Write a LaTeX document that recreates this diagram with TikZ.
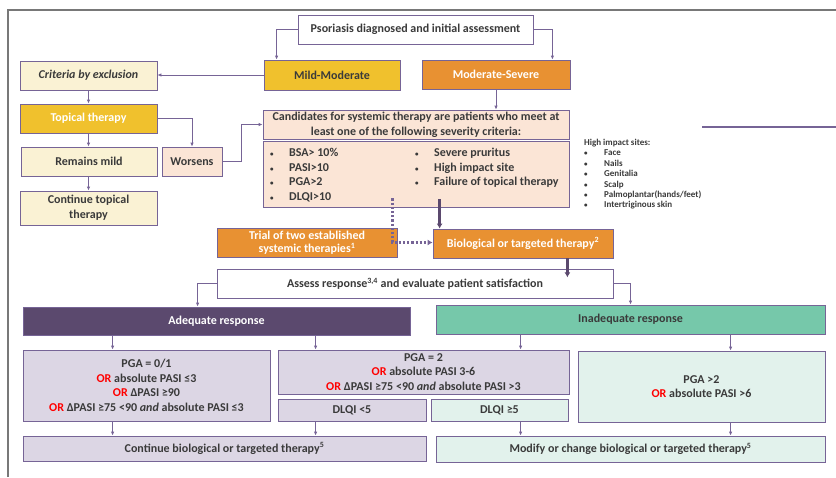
\documentclass[tikz,border=0pt]{standalone}
\usepackage{fontspec}
\setmainfont{Carlito}
\usepackage{xcolor}
\usepackage{tikz}
\usetikzlibrary{calc,arrows.meta}
\definecolor{boxline}{RGB}{118,100,150}
\definecolor{gold}{RGB}{240,193,45}
\definecolor{orng}{RGB}{232,145,50}
\definecolor{cream}{RGB}{250,242,212}
\definecolor{peach}{RGB}{251,229,214}
\definecolor{dpurple}{RGB}{91,73,110}
\definecolor{teal}{RGB}{118,200,170}
\definecolor{lav}{RGB}{220,214,228}
\definecolor{lteal}{RGB}{226,242,236}
\definecolor{dtext}{RGB}{58,58,58}
\definecolor{frame}{RGB}{120,120,120}
\newcommand{\OR}{\textcolor{red}{OR}}
\newcommand{\bul}[1]{\makebox[#1][l]{\fontsize{7}{7}\selectfont•}}
\tikzstyle{centered} = [align=center, text centered, font=\fontsize{12}{14.6}\selectfont\bfseries]
\tikzset{
  % node styles
  box/.style={centered, draw=boxline, line width=0.8pt, text=dtext, inner sep=1pt},
  whitebox/.style={box, fill=white},
  goldbox/.style={box, fill=gold},
  orangebox/.style={box, fill=orng, text=white},
  creambox/.style={box, fill=cream},
  peachbox/.style={box, fill=peach},
  lavbox/.style={box, fill=lav},
  tealbox/.style={box, fill=lteal},
  % edge styles
  arr/.style={draw=boxline, line width=0.8pt, -{Latex[length=4pt,width=3.5pt]}},
  thickarr/.style={draw=dpurple, line width=2.4pt, -{Latex[length=5pt,width=6pt]}},
  dotarr/.style={draw=boxline, line width=2.2pt, dotted, -{Latex[length=5pt,width=6pt]}},
}
\begin{document}
\begin{tikzpicture}[x=1pt,y=-1pt]
  \useasboundingbox (0,0) rectangle (836,477);
  % frame
  \draw[frame, line width=1.5pt] (8,477) -- (8,10) -- (836,10);
  \draw[boxline, line width=2pt] (702,127) -- (836,127);
  % top
  \node(PSO)[whitebox, minimum width=235, minimum height=29] at (415.5,29.5) {Psoriasis diagnosed and initial assessment};
  \node(MM)[goldbox, minimum width=136, minimum height=30] at (332,75) {Mild-Moderate};
  \node(MS)[orangebox, minimum width=148, minimum height=29] at (496,74.5) {Moderate-Severe};
  % mild branch
  \node(EXC)[creambox, minimum width=137, minimum height=29] at (88.5,75.5) {\itshape Criteria by exclusion};
  \node(TOP)[goldbox, text=white, minimum width=137, minimum height=29] at (88.5,118.5) {Topical therapy};
  \node(REM)[creambox, minimum width=136, minimum height=29] at (89,161.5) {Remains mild};
  \node(CTOP)[creambox, minimum width=137, minimum height=34] at (88.5,208) {Continue topical\\therapy};
  \node(WOR)[peachbox, minimum width=60, minimum height=29] at (192,161.5) {Worsens};
  % severity criteria
  \node(CAND)[peachbox, minimum width=306, minimum height=29] at (416,124.5) {Candidates for systemic therapy are patients who meet at\\least one of the following severity criteria:};
  \node(CRIT)[peachbox, minimum width=306, minimum height=66] at (416,174) {};
  \node(CRITA)[centered, text=dtext, align=left, anchor=north west, inner sep=0pt] at (270,148)
    {\bul{19pt}BSA> 10\%\\\bul{19pt}PASI>10\\\bul{19pt}PGA>2\\\bul{19pt}DLQI>10};
  \node(CRITB)[centered, text=dtext, align=left, anchor=north west, inner sep=0pt] at (415,148)
    {\bul{19pt}Severe pruritus\\\bul{19pt}High impact site\\\bul{19pt}Failure of topical therapy};
  \node(SITES)[text=dtext, align=left, anchor=north west, inner sep=0pt, font=\fontsize{9}{10.4}\selectfont\bfseries] at (584,139)
    {High impact sites:\\\bul{20pt}Face\\\bul{20pt}Nails\\\bul{20pt}Genitalia\\\bul{20pt}Scalp\\\bul{20pt}Palmoplantar(hands/feet)\\\bul{20pt}Intertriginous skin};
  % therapies
  \node(TRIAL)[orangebox, minimum width=180, minimum height=29, font=\fontsize{12}{13.5}\selectfont\bfseries] at (307,242.5) {Trial of two established\\systemic therapies\textsuperscript{1}};
  \node(BIO)[orangebox, minimum width=180, minimum height=29] at (523,243.5) {Biological or targeted therapy\textsuperscript{2}};
  \node(ASS)[whitebox, minimum width=396, minimum height=29] at (415,283.5) {Assess response\textsuperscript{3,4} and evaluate patient satisfaction};
  % response
  \node(ADQ)[box, fill=dpurple, text=white, minimum width=387, minimum height=28] at (216.5,321) {Adequate response};
  \node(INADQ)[box, fill=teal, minimum width=389, minimum height=29] at (630.5,319.5) {Inadequate response};
  \node(PGA0)[lavbox, minimum width=247, minimum height=71] at (146.5,385.5) {PGA = 0/1\\\OR{} absolute PASI ≤3\\\OR{} ΔPASI ≥90\\\OR{} ΔPASI ≥75 <90 \textit{and} absolute PASI ≤3};
  \node(PGA2)[lavbox, minimum width=291, minimum height=44, inner sep=0pt] at (423.5,372) {PGA = 2\\\OR{} absolute PASI 3-6\\\OR{} ΔPASI ≥75 <90 \textit{and} absolute PASI >3};
  \node(DLQL)[lavbox, minimum width=148, minimum height=22] at (352,410) {DLQI <5};
  \node(DLQH)[tealbox, minimum width=137, minimum height=22] at (499.5,410) {DLQI ≥5};
  \node(PGAH)[tealbox, minimum width=247, minimum height=71] at (701.5,386.5) {PGA >2\\\OR{} absolute PASI >6};
  \node(CBIO)[lavbox, minimum width=403, minimum height=25] at (224.5,448.5) {Continue biological or targeted therapy\textsuperscript{5}};
  \node(MOD)[tealbox, minimum width=389, minimum height=26] at (630.5,449) {Modify or change biological or targeted therapy\textsuperscript{5}};
  % arrow columns
  \coordinate(A1) at ([xshift=90pt]PGA0.north west);
  \coordinate(A2) at ([xshift=38pt]PGA2.north west);
  \coordinate(A3) at ([xshift=90pt]DLQH.north west);
  \coordinate(A4) at ([xshift=153pt]PGAH.north west);
  \coordinate(T1) at ([xshift=7pt]BIO.north west);
  \coordinate(T2) at ([xshift=-46pt]BIO.south east);
  \coordinate(D1) at ([xshift=-5pt]TRIAL.east);
  % connectors
  \draw[arr] (PSO.west) -| ([xshift=13pt]MM.north west);
  \draw[arr] (PSO.east) -| ([xshift=-18pt]MS.north east);
  \draw[arr] (MM.west) -- (EXC.east |- MM.west);
  \draw[arr] (EXC.south) -- (TOP.north);
  \draw[arr] (TOP.south) -- (REM.north -| TOP.south);
  \draw[arr] (REM.south -| TOP.south) -- (CTOP.north -| TOP.south);
  \draw[arr] (TOP.east) -| (WOR.north);
  \draw[arr] (WOR.east) -| ([xshift=-21pt]CAND.west) -- (CAND.west);
  \draw[arr] (MS.south) -- (MS.south |- CAND.north);
  \draw[thickarr] ($(CRIT.south -| T1)+(0,-8)$) -- (T1);
  \draw[dotarr] ($(CRIT.south -| D1)+(0,-9)$) -- (D1) -- (BIO.west |- D1);
  \draw[thickarr] (T2) -- ($(T2)+(0,19)$);
  \draw[arr] (ASS.west) -| ([xshift=175pt]ADQ.north west);
  \draw[arr] (ASS.east) -| (INADQ.north);
  \draw[arr] (A1 |- ADQ.south) -- (A1);
  \draw[arr] (A2 |- ADQ.south) -- (A2);
  \draw[arr] (A3 |- INADQ.south) -- (A3 |- PGA2.north);
  \draw[arr] (A4 |- INADQ.south) -- (A4);
  \draw[arr] (A1 |- PGA0.south) -- (A1 |- CBIO.north);
  \draw[arr] (A2 |- DLQL.south) -- (A2 |- CBIO.north);
  \draw[arr] (A3 |- DLQH.south) -- (A3 |- MOD.north);
  \draw[arr] (A4 |- PGAH.south) -- (A4 |- MOD.north);
\end{tikzpicture}
\end{document}
